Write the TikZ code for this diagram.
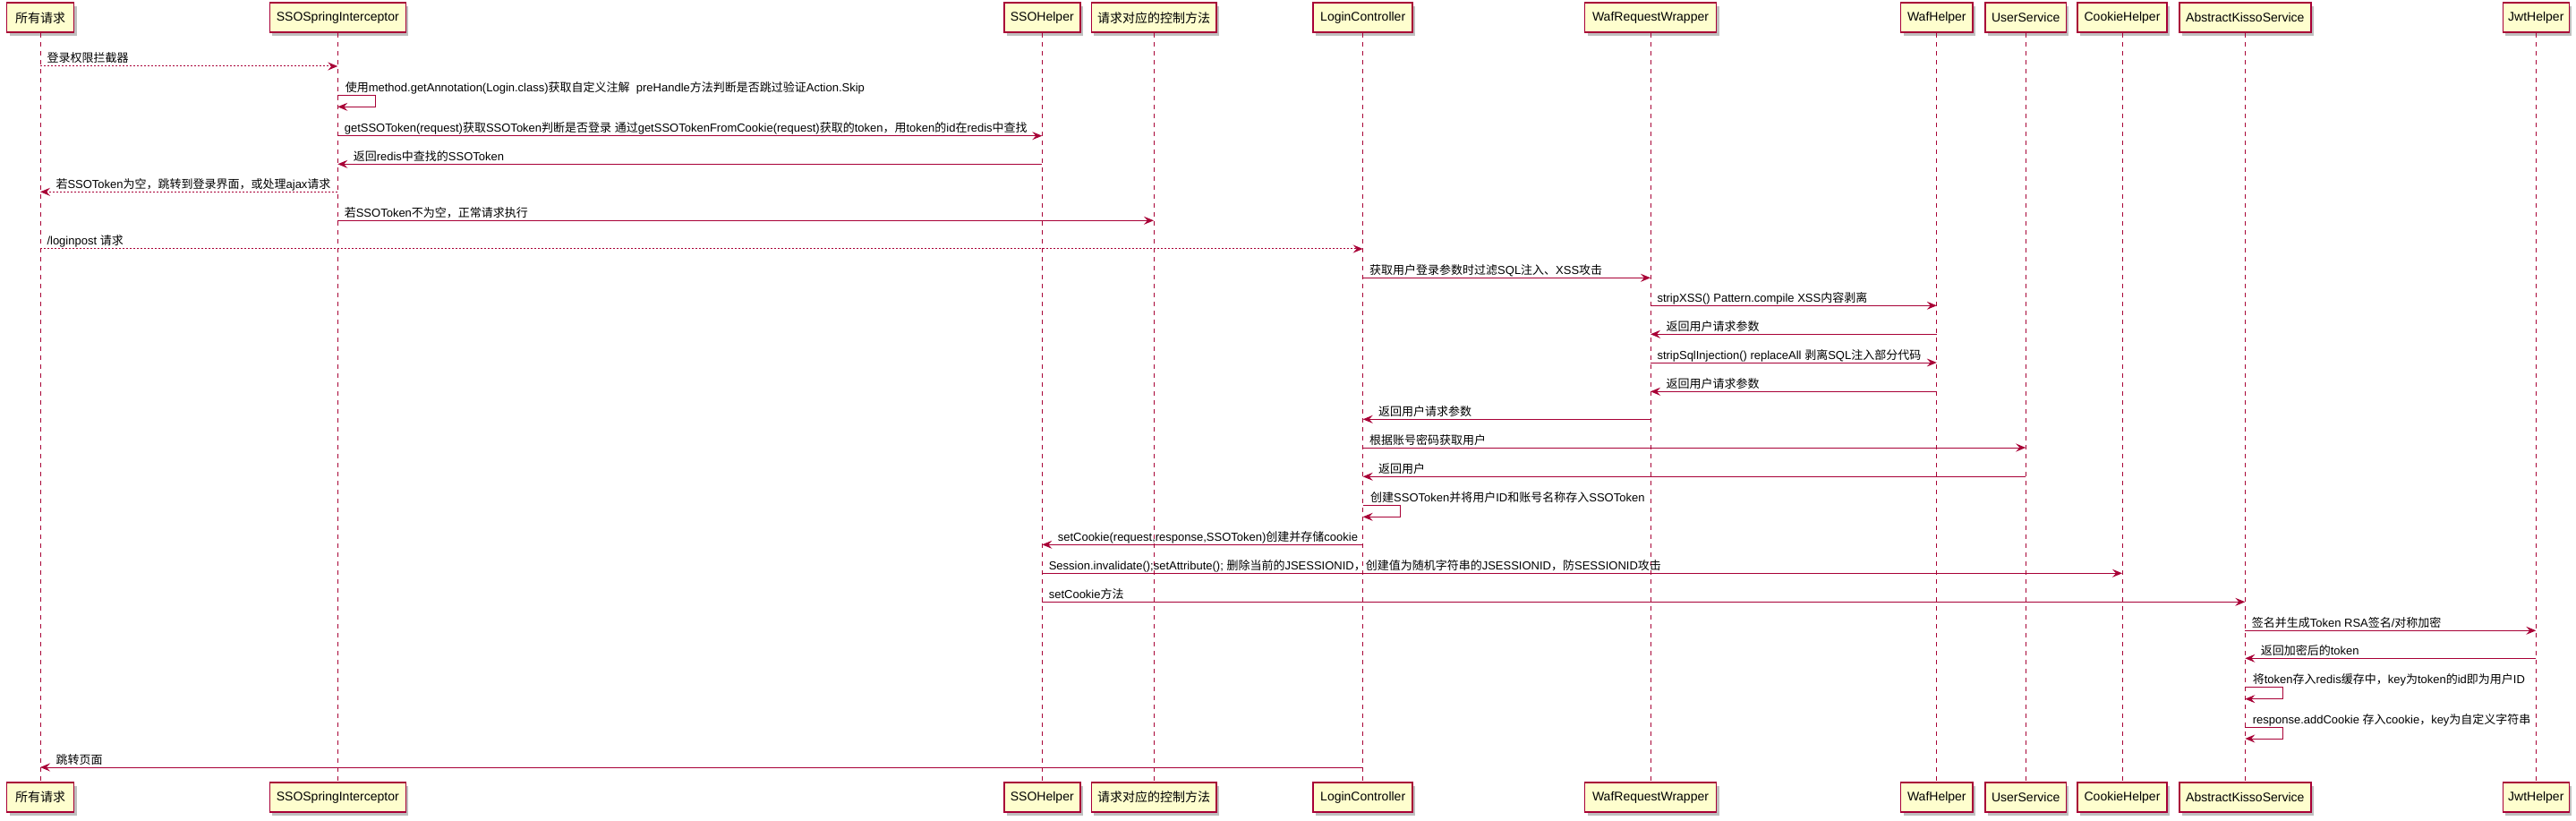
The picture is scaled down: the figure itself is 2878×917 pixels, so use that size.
\documentclass[tikz,border=0pt]{standalone}
\usepackage{fontspec}
\setmainfont{Liberation Sans}
\newfontfamily\cjk{Noto Sans CJK SC}
\newcommand\zh[1]{{\cjk #1}}
\usetikzlibrary{arrows.meta, shadows}
\definecolor{umlred}{HTML}{A80036}
\definecolor{umlbox}{HTML}{FEFECE}

\begin{document}
\begin{tikzpicture}[x=1pt, y=-1pt, >={Stealth[length=11pt,width=9pt,inset=4pt]},
        pt/.style={draw=umlred, fill=umlbox, line width=1.5pt, minimum height=33pt,
            inner sep=0, font=\fontsize{14}{16}\selectfont,
            drop shadow={shadow xshift=3pt, shadow yshift=-4pt, fill=black, opacity=0.25}},
        ll/.style={umlred, line width=1pt, dash pattern=on 5pt off 5pt},
        msg/.style={umlred, line width=1pt, ->},
        dmsg/.style={msg, dash pattern=on 2pt off 2pt},
        lt/.style={anchor=base west, inner sep=0, yshift=4pt, text=black,
            font=\fontsize{13}{15}\selectfont},
        lbl/.style={lt, pos=0, xshift=7pt},
        rlbl/.style={lt, pos=1, xshift=17pt},
        slbl/.style={lt, xshift=8pt}]
    \useasboundingbox (0,0) rectangle (2878,917);

    % participants
    \node(req)[pt, minimum width=75pt] at (45,19.7) {\zh{所有请求}};
    \node(ssi)[pt, minimum width=152pt] at (377.3,19.7) {SSOSpringInterceptor};
    \node(ssoh)[pt, minimum width=85pt] at (1164.3,19.7) {SSOHelper};
    \node(ctrl)[pt, minimum width=139.5pt] at (1289,19.7) {\zh{请求对应的控制方法}};
    \node(login)[pt, minimum width=111pt] at (1522.7,19.7) {LoginController};
    \node(waf)[pt, minimum width=147pt] at (1844,19.7) {WafRequestWrapper};
    \node(wafh)[pt, minimum width=80.5pt] at (2163.8,19.7) {WafHelper};
    \node(usr)[pt, minimum width=90.4pt] at (2263.2,19.7) {UserService};
    \node(ckh)[pt, minimum width=100pt] at (2371,19.7) {CookieHelper};
    \node(kisso)[pt, minimum width=147pt] at (2508.3,19.7) {AbstractKissoService};
    \node(jwt)[pt, minimum width=74pt] at (2833.3,19.7) {JwtHelper};

    \node(reqb)[pt, minimum width=75pt] at (45,890.5) {\zh{所有请求}};
    \node(ssib)[pt, minimum width=152pt] at (377.3,890.5) {SSOSpringInterceptor};
    \node(ssohb)[pt, minimum width=85pt] at (1164.3,890.5) {SSOHelper};
    \node(ctrlb)[pt, minimum width=139.5pt] at (1289,890.5) {\zh{请求对应的控制方法}};
    \node(loginb)[pt, minimum width=111pt] at (1522.7,890.5) {LoginController};
    \node(wafb)[pt, minimum width=147pt] at (1844,890.5) {WafRequestWrapper};
    \node(wafhb)[pt, minimum width=80.5pt] at (2163.8,890.5) {WafHelper};
    \node(usrb)[pt, minimum width=90.4pt] at (2263.2,890.5) {UserService};
    \node(ckhb)[pt, minimum width=100pt] at (2371,890.5) {CookieHelper};
    \node(kissob)[pt, minimum width=147pt] at (2508.3,890.5) {AbstractKissoService};
    \node(jwtb)[pt, minimum width=74pt] at (2833.3,890.5) {JwtHelper};

    % lifelines
    \draw[ll] (req.south) -- (reqb.north);
    \draw[ll] (ssi.south) -- (ssib.north);
    \draw[ll] (ssoh.south) -- (ssohb.north);
    \draw[ll] (ctrl.south) -- (ctrlb.north);
    \draw[ll] (login.south) -- (loginb.north);
    \draw[ll] (waf.south) -- (wafb.north);
    \draw[ll] (wafh.south) -- (wafhb.north);
    \draw[ll] (usr.south) -- (usrb.north);
    \draw[ll] (ckh.south) -- (ckhb.north);
    \draw[ll] (kisso.south) -- (kissob.north);
    \draw[ll] (jwt.south) -- (jwtb.north);

    % messages
    \draw[dmsg] (req |- 0,74) -- node[lbl] {\zh{登录权限拦截器}} (ssi |- 0,74);
    \draw[msg] (ssi |- 0,106.7) node[slbl] {\zh{使用}method.getAnnotation(Login.class)\zh{获取自定义注解}\ \ preHandle\zh{方法判断是否跳过验证}Action.Skip}
        -- ++(42,0) |- (ssi |- 0,119.3);
    \draw[msg] (ssi |- 0,151.7) -- node[lbl] {getSSOToken(request)\zh{获取}SSOToken\zh{判断是否登录} \zh{通过}getSSOTokenFromCookie(request)\zh{获取的}token\zh{，用}token\zh{的}id\zh{在}redis\zh{中查找}} (ssoh |- 0,151.7);
    \draw[msg] (ssoh |- 0,183.3) -- node[rlbl] {\zh{返回}redis\zh{中查找的}SSOToken} (ssi |- 0,183.3);
    \draw[dmsg] (ssi |- 0,214.3) -- node[rlbl] {\zh{若}SSOToken\zh{为空，跳转到登录界面，或处理}ajax\zh{请求}} (req |- 0,214.3);
    \draw[msg] (ssi |- 0,246.3) -- node[lbl] {\zh{若}SSOToken\zh{不为空，正常请求执行}} (ctrl |- 0,246.3);
    \draw[dmsg] (req |- 0,278) -- node[lbl] {/loginpost \zh{请求}} (login |- 0,278);
    \draw[msg] (login |- 0,310.3) -- node[lbl] {\zh{获取用户登录参数时过滤}SQL\zh{注入、}XSS\zh{攻击}} (waf |- 0,310.3);
    \draw[msg] (waf |- 0,341.3) -- node[lbl] {stripXSS() Pattern.compile XSS\zh{内容剥离}} (wafh |- 0,341.3);
    \draw[msg] (wafh |- 0,373.3) -- node[rlbl] {\zh{返回用户请求参数}} (waf |- 0,373.3);
    \draw[msg] (waf |- 0,405) -- node[lbl] {stripSqlInjection() replaceAll \zh{剥离}SQL\zh{注入部分代码}} (wafh |- 0,405);
    \draw[msg] (wafh |- 0,437.3) -- node[rlbl] {\zh{返回用户请求参数}} (waf |- 0,437.3);
    \draw[msg] (waf |- 0,468.3) -- node[rlbl] {\zh{返回用户请求参数}} (login |- 0,468.3);
    \draw[msg] (login |- 0,500) -- node[lbl] {\zh{根据账号密码获取用户}} (usr |- 0,500);
    \draw[msg] (usr |- 0,532.3) -- node[rlbl] {\zh{返回用户}} (login |- 0,532.3);
    \draw[msg] (login |- 0,564) node[slbl] {\zh{创建}SSOToken\zh{并将用户}ID\zh{和账号名称存入}SSOToken}
        -- ++(42,0) |- (login |- 0,577.3);
    \draw[msg] (login |- 0,608.3) -- node[rlbl] {setCookie(request,response,SSOToken)\zh{创建并存储}cookie} (ssoh |- 0,608.3);
    \draw[msg] (ssoh |- 0,640.3) -- node[lbl] {Session.invalidate();setAttribute(); \zh{删除当前的}JSESSIONID\zh{，创建值为随机字符串的}JSESSIONID\zh{，防}SESSIONID\zh{攻击}} (ckh |- 0,640.3);
    \draw[msg] (ssoh |- 0,672.3) -- node[lbl] {setCookie\zh{方法}} (kisso |- 0,672.3);
    \draw[msg] (kisso |- 0,704.3) -- node[lbl] {\zh{签名并生成}Token RSA\zh{签名}/\zh{对称加密}} (jwt |- 0,704.3);
    \draw[msg] (jwt |- 0,735.3) -- node[rlbl] {\zh{返回加密后的}token} (kisso |- 0,735.3);
    \draw[msg] (kisso |- 0,767.7) node[slbl] {\zh{将}token\zh{存入}redis\zh{缓存中，}key\zh{为}token\zh{的}id\zh{即为用户}ID}
        -- ++(42,0) |- (kisso |- 0,780.7);
    \draw[msg] (kisso |- 0,812.5) node[slbl] {response.addCookie \zh{存入}cookie\zh{，}key\zh{为自定义字符串}}
        -- ++(42,0) |- (kisso |- 0,825);
    \draw[msg] (login |- 0,857) -- node[rlbl] {\zh{跳转页面}} (req |- 0,857);
\end{tikzpicture}
\end{document}
